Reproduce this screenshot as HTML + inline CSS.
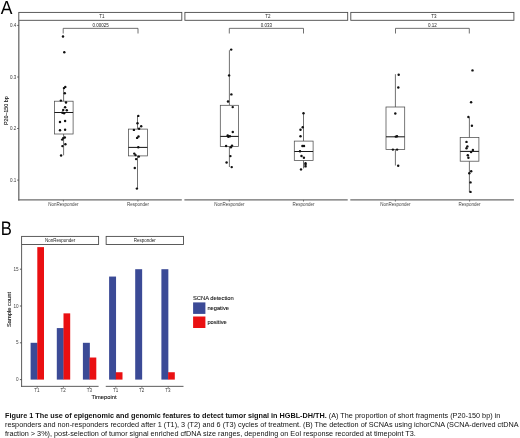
<!DOCTYPE html>
<html lang="en">
<head>
<meta charset="utf-8">
<title>Figure 1</title>
<style>
html,body{margin:0;padding:0;background:#fff;}
body{width:520px;height:438px;overflow:hidden;position:relative;font-family:'Liberation Sans', Arial, Helvetica, sans-serif;}
svg{position:absolute;left:0;top:0;display:block;}
svg text{font-family:'Liberation Sans', Arial, Helvetica, sans-serif;}
svg text.big{text-rendering:geometricPrecision;}
.cap{position:absolute;left:5.0px;top:412.1px;width:520px;font-size:7.275px;line-height:8.78px;color:#111;white-space:nowrap;letter-spacing:0;}
.cap b{font-weight:bold;}
</style>
</head>
<body>
<svg width="520" height="438" viewBox="0 0 520 438">
<rect x="18.80" y="12.40" width="163.00" height="7.90" fill="#fff" stroke="#4a4a4a" stroke-width="0.9"/>
<text x="101.9" y="18.15" font-size="4.5" text-anchor="middle" font-weight="normal" fill="#222" >T1</text>
<line x1="18.150000000000002" y1="199.95" x2="181.8" y2="199.95" stroke="#6c6c6c" stroke-width="1.3"/>
<rect x="184.90" y="12.40" width="162.80" height="7.90" fill="#fff" stroke="#4a4a4a" stroke-width="0.9"/>
<text x="267.90000000000003" y="18.15" font-size="4.5" text-anchor="middle" font-weight="normal" fill="#222" >T2</text>
<line x1="184.4" y1="199.95" x2="347.7" y2="199.95" stroke="#6c6c6c" stroke-width="1.3"/>
<rect x="350.80" y="12.40" width="163.10" height="7.90" fill="#fff" stroke="#4a4a4a" stroke-width="0.9"/>
<text x="433.95000000000005" y="18.15" font-size="4.5" text-anchor="middle" font-weight="normal" fill="#222" >T3</text>
<line x1="350.3" y1="199.95" x2="513.9" y2="199.95" stroke="#6c6c6c" stroke-width="1.3"/>
<line x1="18.8" y1="20.3" x2="18.8" y2="200.6" stroke="#6c6c6c" stroke-width="1.3"/>
<line x1="17.2" y1="25.4" x2="18.8" y2="25.4" stroke="#4a4a4a" stroke-width="0.9"/>
<text x="16.4" y="27.0" font-size="4.55" text-anchor="end" font-weight="normal" fill="#3a3a3a" >0.4</text>
<line x1="17.2" y1="77.0" x2="18.8" y2="77.0" stroke="#4a4a4a" stroke-width="0.9"/>
<text x="16.4" y="78.6" font-size="4.55" text-anchor="end" font-weight="normal" fill="#3a3a3a" >0.3</text>
<line x1="17.2" y1="128.5" x2="18.8" y2="128.5" stroke="#4a4a4a" stroke-width="0.9"/>
<text x="16.4" y="130.1" font-size="4.55" text-anchor="end" font-weight="normal" fill="#3a3a3a" >0.2</text>
<line x1="17.2" y1="180.1" x2="18.8" y2="180.1" stroke="#4a4a4a" stroke-width="0.9"/>
<text x="16.4" y="181.7" font-size="4.55" text-anchor="end" font-weight="normal" fill="#3a3a3a" >0.1</text>
<text transform="translate(8.0,110.7) rotate(-90)" font-size="5.3" text-anchor="middle" fill="#111" stroke="#111" stroke-width="0.1">P20–150 bp</text>
<line x1="63.4" y1="199.95" x2="63.4" y2="201.54999999999998" stroke="#4a4a4a" stroke-width="0.7"/>
<text x="63.4" y="205.7" font-size="4.5" text-anchor="middle" font-weight="normal" fill="#444" >NonResponder</text>
<line x1="137.9" y1="199.95" x2="137.9" y2="201.54999999999998" stroke="#4a4a4a" stroke-width="0.7"/>
<text x="137.9" y="205.7" font-size="4.5" text-anchor="middle" font-weight="normal" fill="#444" >Responder</text>
<line x1="229.3" y1="199.95" x2="229.3" y2="201.54999999999998" stroke="#4a4a4a" stroke-width="0.7"/>
<text x="229.3" y="205.7" font-size="4.5" text-anchor="middle" font-weight="normal" fill="#444" >NonResponder</text>
<line x1="303.5" y1="199.95" x2="303.5" y2="201.54999999999998" stroke="#4a4a4a" stroke-width="0.7"/>
<text x="303.5" y="205.7" font-size="4.5" text-anchor="middle" font-weight="normal" fill="#444" >Responder</text>
<line x1="395.4" y1="199.95" x2="395.4" y2="201.54999999999998" stroke="#4a4a4a" stroke-width="0.7"/>
<text x="395.4" y="205.7" font-size="4.5" text-anchor="middle" font-weight="normal" fill="#444" >NonResponder</text>
<line x1="469.6" y1="199.95" x2="469.6" y2="201.54999999999998" stroke="#4a4a4a" stroke-width="0.7"/>
<text x="469.6" y="205.7" font-size="4.5" text-anchor="middle" font-weight="normal" fill="#444" >Responder</text>
<polyline points="63.2,33.5 63.2,28.35 138.0,28.35 138.0,33.5" fill="none" stroke="#4c4c4c" stroke-width="0.8"/>
<text x="100.6" y="26.9" font-size="4.5" text-anchor="middle" font-weight="normal" fill="#222" >0.00025</text>
<polyline points="229.3,33.5 229.3,28.35 303.5,28.35 303.5,33.5" fill="none" stroke="#4c4c4c" stroke-width="0.8"/>
<text x="266.4" y="26.9" font-size="4.5" text-anchor="middle" font-weight="normal" fill="#222" >0.033</text>
<polyline points="395.5,33.5 395.5,28.35 469.3,28.35 469.3,33.5" fill="none" stroke="#4c4c4c" stroke-width="0.8"/>
<text x="432.4" y="26.9" font-size="4.5" text-anchor="middle" font-weight="normal" fill="#222" >0.12</text>
<line x1="63.6" y1="88.0" x2="63.6" y2="101.2" stroke="#4c4c4c" stroke-width="0.8"/>
<line x1="63.6" y1="134.0" x2="63.6" y2="155.3" stroke="#4c4c4c" stroke-width="0.8"/>
<rect x="54.40" y="101.20" width="18.70" height="32.80" fill="#fff" stroke="#4c4c4c" stroke-width="0.75"/>
<line x1="54.4" y1="112.5" x2="73.1" y2="112.5" stroke="#1a1a1a" stroke-width="1.05"/>
<line x1="137.5" y1="115.9" x2="137.5" y2="129.1" stroke="#4c4c4c" stroke-width="0.8"/>
<line x1="137.5" y1="155.9" x2="137.5" y2="188.6" stroke="#4c4c4c" stroke-width="0.8"/>
<rect x="128.40" y="129.10" width="19.00" height="26.80" fill="#fff" stroke="#4c4c4c" stroke-width="0.75"/>
<line x1="128.4" y1="147.4" x2="147.4" y2="147.4" stroke="#1a1a1a" stroke-width="1.05"/>
<line x1="229.4" y1="50.2" x2="229.4" y2="105.3" stroke="#4c4c4c" stroke-width="0.8"/>
<line x1="229.4" y1="146.4" x2="229.4" y2="167.0" stroke="#4c4c4c" stroke-width="0.8"/>
<rect x="220.30" y="105.30" width="18.20" height="41.10" fill="#fff" stroke="#4c4c4c" stroke-width="0.75"/>
<line x1="220.3" y1="136.4" x2="238.5" y2="136.4" stroke="#1a1a1a" stroke-width="1.05"/>
<line x1="303.5" y1="113.2" x2="303.5" y2="141.1" stroke="#4c4c4c" stroke-width="0.8"/>
<line x1="303.5" y1="160.4" x2="303.5" y2="168.4" stroke="#4c4c4c" stroke-width="0.8"/>
<rect x="294.30" y="141.10" width="18.80" height="19.30" fill="#fff" stroke="#4c4c4c" stroke-width="0.75"/>
<line x1="294.3" y1="151.5" x2="313.1" y2="151.5" stroke="#1a1a1a" stroke-width="1.05"/>
<line x1="395.4" y1="74.2" x2="395.4" y2="107.0" stroke="#4c4c4c" stroke-width="0.8"/>
<line x1="395.4" y1="149.4" x2="395.4" y2="165.5" stroke="#4c4c4c" stroke-width="0.8"/>
<rect x="386.00" y="107.00" width="18.70" height="42.40" fill="#fff" stroke="#4c4c4c" stroke-width="0.75"/>
<line x1="386.0" y1="136.8" x2="404.7" y2="136.8" stroke="#1a1a1a" stroke-width="1.05"/>
<line x1="469.4" y1="117.3" x2="469.4" y2="137.6" stroke="#4c4c4c" stroke-width="0.8"/>
<line x1="469.4" y1="161.2" x2="469.4" y2="192.0" stroke="#4c4c4c" stroke-width="0.8"/>
<rect x="460.20" y="137.60" width="18.70" height="23.60" fill="#fff" stroke="#4c4c4c" stroke-width="0.75"/>
<line x1="460.2" y1="151.4" x2="478.9" y2="151.4" stroke="#1a1a1a" stroke-width="1.05"/>
<g fill="#111">
<circle cx="63" cy="36.5" r="1.22"/>
<circle cx="64.3" cy="52.2" r="1.22"/>
<circle cx="65.3" cy="86.9" r="1.22"/>
<circle cx="64" cy="88.1" r="1.22"/>
<circle cx="64.8" cy="93.2" r="1.22"/>
<circle cx="60.9" cy="100.6" r="1.22"/>
<circle cx="66" cy="102.5" r="1.22"/>
<circle cx="65.1" cy="107.3" r="1.22"/>
<circle cx="63.2" cy="110" r="1.22"/>
<circle cx="66.8" cy="110.3" r="1.22"/>
<circle cx="62.4" cy="112.7" r="1.22"/>
<circle cx="64.1" cy="113.2" r="1.22"/>
<circle cx="60" cy="122" r="1.22"/>
<circle cx="65.1" cy="121" r="1.22"/>
<circle cx="60" cy="130.3" r="1.22"/>
<circle cx="65.1" cy="129.7" r="1.22"/>
<circle cx="64.8" cy="137.5" r="1.22"/>
<circle cx="63.2" cy="138.1" r="1.22"/>
<circle cx="62.2" cy="139.6" r="1.22"/>
<circle cx="65.4" cy="144.2" r="1.22"/>
<circle cx="62.4" cy="146.1" r="1.22"/>
<circle cx="61.1" cy="155.5" r="1.22"/>
<circle cx="138.3" cy="115.9" r="1.22"/>
<circle cx="137.5" cy="123.2" r="1.22"/>
<circle cx="141.2" cy="126.3" r="1.22"/>
<circle cx="139.1" cy="128.7" r="1.22"/>
<circle cx="133.9" cy="129.9" r="1.22"/>
<circle cx="138.5" cy="136.5" r="1.22"/>
<circle cx="137.1" cy="137.9" r="1.22"/>
<circle cx="138.3" cy="147.2" r="1.22"/>
<circle cx="134.3" cy="153.6" r="1.22"/>
<circle cx="135.5" cy="155.1" r="1.22"/>
<circle cx="138.8" cy="156.6" r="1.22"/>
<circle cx="136.1" cy="159.1" r="1.22"/>
<circle cx="134.8" cy="168" r="1.22"/>
<circle cx="136.9" cy="188.6" r="1.22"/>
<circle cx="231.2" cy="49.6" r="1.22"/>
<circle cx="229.1" cy="75.4" r="1.22"/>
<circle cx="231.4" cy="94.4" r="1.22"/>
<circle cx="228" cy="101.5" r="1.22"/>
<circle cx="232.7" cy="107.1" r="1.22"/>
<circle cx="232.8" cy="132" r="1.22"/>
<circle cx="227.7" cy="135.4" r="1.22"/>
<circle cx="228.3" cy="136.8" r="1.22"/>
<circle cx="229.9" cy="136.2" r="1.22"/>
<circle cx="226.1" cy="146" r="1.22"/>
<circle cx="232" cy="145.6" r="1.22"/>
<circle cx="230.9" cy="147.2" r="1.22"/>
<circle cx="230.4" cy="156.1" r="1.22"/>
<circle cx="226.6" cy="162.5" r="1.22"/>
<circle cx="231.7" cy="167.1" r="1.22"/>
<circle cx="303.5" cy="113.2" r="1.22"/>
<circle cx="302.7" cy="127.2" r="1.22"/>
<circle cx="300.5" cy="129.8" r="1.22"/>
<circle cx="300.5" cy="136.2" r="1.22"/>
<circle cx="302.4" cy="146" r="1.22"/>
<circle cx="304" cy="146" r="1.22"/>
<circle cx="300" cy="151.2" r="1.22"/>
<circle cx="301.5" cy="156" r="1.22"/>
<circle cx="303.9" cy="157.7" r="1.22"/>
<circle cx="305.5" cy="163.2" r="1.22"/>
<circle cx="305.5" cy="164.8" r="1.22"/>
<circle cx="305.5" cy="166.4" r="1.22"/>
<circle cx="301.0" cy="169.4" r="1.22"/>
<circle cx="398.7" cy="74.7" r="1.22"/>
<circle cx="398.3" cy="87.5" r="1.22"/>
<circle cx="395.3" cy="113.5" r="1.22"/>
<circle cx="395.8" cy="136.6" r="1.22"/>
<circle cx="397.0" cy="136.3" r="1.22"/>
<circle cx="392.9" cy="149.6" r="1.22"/>
<circle cx="397.1" cy="149.6" r="1.22"/>
<circle cx="398.2" cy="165.8" r="1.22"/>
<circle cx="472.5" cy="70.4" r="1.22"/>
<circle cx="471.1" cy="102.3" r="1.22"/>
<circle cx="468.4" cy="117" r="1.22"/>
<circle cx="471.9" cy="125.8" r="1.22"/>
<circle cx="466.5" cy="141.9" r="1.22"/>
<circle cx="467.4" cy="146.4" r="1.22"/>
<circle cx="466.5" cy="148.3" r="1.22"/>
<circle cx="472.9" cy="150" r="1.22"/>
<circle cx="471.1" cy="152" r="1.22"/>
<circle cx="467.8" cy="155.3" r="1.22"/>
<circle cx="468.4" cy="157.7" r="1.22"/>
<circle cx="471.2" cy="171.3" r="1.22"/>
<circle cx="469.3" cy="173.3" r="1.22"/>
<circle cx="470.5" cy="182.4" r="1.22"/>
<circle cx="470.5" cy="191.9" r="1.22"/>
</g>
<rect x="21.60" y="236.40" width="77.00" height="8.15" fill="#fff" stroke="#4a4a4a" stroke-width="0.9"/>
<text x="60.099999999999994" y="242.2" font-size="4.5" text-anchor="middle" font-weight="normal" fill="#222" >NonResponder</text>
<line x1="21.150000000000002" y1="386.35" x2="98.6" y2="386.35" stroke="#4a4a4a" stroke-width="0.9"/>
<rect x="106.15" y="236.40" width="77.35" height="8.15" fill="#fff" stroke="#4a4a4a" stroke-width="0.9"/>
<text x="144.825" y="242.2" font-size="4.5" text-anchor="middle" font-weight="normal" fill="#222" >Responder</text>
<line x1="105.75" y1="386.35" x2="183.5" y2="386.35" stroke="#4a4a4a" stroke-width="0.9"/>
<line x1="21.6" y1="244.5" x2="21.6" y2="386.8" stroke="#4a4a4a" stroke-width="0.9"/>
<line x1="19.9" y1="379.6" x2="21.6" y2="379.6" stroke="#4a4a4a" stroke-width="0.9"/>
<text x="18.6" y="381.20000000000005" font-size="4.6" text-anchor="end" font-weight="normal" fill="#444" >0</text>
<line x1="19.9" y1="342.8" x2="21.6" y2="342.8" stroke="#4a4a4a" stroke-width="0.9"/>
<text x="18.6" y="344.40000000000003" font-size="4.6" text-anchor="end" font-weight="normal" fill="#444" >5</text>
<line x1="19.9" y1="306.0" x2="21.6" y2="306.0" stroke="#4a4a4a" stroke-width="0.9"/>
<text x="18.6" y="307.6" font-size="4.6" text-anchor="end" font-weight="normal" fill="#444" >10</text>
<line x1="19.9" y1="269.20000000000005" x2="21.6" y2="269.20000000000005" stroke="#4a4a4a" stroke-width="0.9"/>
<text x="18.6" y="270.80000000000007" font-size="4.6" text-anchor="end" font-weight="normal" fill="#444" >15</text>
<text transform="translate(10.5,309.5) rotate(-90)" font-size="5.76" text-anchor="middle" fill="#111" stroke="#111" stroke-width="0.1">Sample count</text>
<rect x="30.60" y="342.80" width="6.95" height="36.80" fill="#3b4a96" stroke="none" stroke-width="1"/>
<rect x="37.30" y="247.12" width="6.70" height="132.48" fill="#ea1012" stroke="none" stroke-width="1"/>
<rect x="56.80" y="328.08" width="6.95" height="51.52" fill="#3b4a96" stroke="none" stroke-width="1"/>
<rect x="63.50" y="313.36" width="6.70" height="66.24" fill="#ea1012" stroke="none" stroke-width="1"/>
<rect x="82.90" y="342.80" width="6.95" height="36.80" fill="#3b4a96" stroke="none" stroke-width="1"/>
<rect x="89.60" y="357.52" width="6.70" height="22.08" fill="#ea1012" stroke="none" stroke-width="1"/>
<rect x="109.10" y="276.56" width="6.95" height="103.04" fill="#3b4a96" stroke="none" stroke-width="1"/>
<rect x="115.80" y="372.24" width="6.70" height="7.36" fill="#ea1012" stroke="none" stroke-width="1"/>
<rect x="135.20" y="269.20" width="6.95" height="110.40" fill="#3b4a96" stroke="none" stroke-width="1"/>
<rect x="161.40" y="269.20" width="6.95" height="110.40" fill="#3b4a96" stroke="none" stroke-width="1"/>
<rect x="168.10" y="372.24" width="6.70" height="7.36" fill="#ea1012" stroke="none" stroke-width="1"/>
<line x1="37.2" y1="386.35" x2="37.2" y2="387.95000000000005" stroke="#4a4a4a" stroke-width="0.7"/>
<text x="37.0" y="392.4" font-size="4.5" text-anchor="middle" font-weight="normal" fill="#3a3a3a" >T1</text>
<line x1="63.400000000000006" y1="386.35" x2="63.400000000000006" y2="387.95000000000005" stroke="#4a4a4a" stroke-width="0.7"/>
<text x="63.2" y="392.4" font-size="4.5" text-anchor="middle" font-weight="normal" fill="#3a3a3a" >T2</text>
<line x1="89.60000000000001" y1="386.35" x2="89.60000000000001" y2="387.95000000000005" stroke="#4a4a4a" stroke-width="0.7"/>
<text x="89.4" y="392.4" font-size="4.5" text-anchor="middle" font-weight="normal" fill="#3a3a3a" >T3</text>
<line x1="115.8" y1="386.35" x2="115.8" y2="387.95000000000005" stroke="#4a4a4a" stroke-width="0.7"/>
<text x="115.6" y="392.4" font-size="4.5" text-anchor="middle" font-weight="normal" fill="#3a3a3a" >T1</text>
<line x1="141.89999999999998" y1="386.35" x2="141.89999999999998" y2="387.95000000000005" stroke="#4a4a4a" stroke-width="0.7"/>
<text x="141.7" y="392.4" font-size="4.5" text-anchor="middle" font-weight="normal" fill="#3a3a3a" >T2</text>
<line x1="168.2" y1="386.35" x2="168.2" y2="387.95000000000005" stroke="#4a4a4a" stroke-width="0.7"/>
<text x="168.0" y="392.4" font-size="4.5" text-anchor="middle" font-weight="normal" fill="#3a3a3a" >T3</text>
<text x="104.0" y="398.9" font-size="5.75" text-anchor="middle" font-weight="normal" fill="#111" stroke="#111" stroke-width="0.1">Timepoint</text>
<text x="192.9" y="300.0" font-size="5.8" text-anchor="start" font-weight="normal" fill="#111" stroke="#111" stroke-width="0.08">SCNA detection</text>
<rect x="193.10" y="302.40" width="12.30" height="11.50" fill="#3b4a96" stroke="none" stroke-width="1"/>
<rect x="193.10" y="316.50" width="12.30" height="11.50" fill="#ea1012" stroke="none" stroke-width="1"/>
<text x="207.4" y="309.8" font-size="5.7" text-anchor="start" font-weight="normal" fill="#111" stroke="#111" stroke-width="0.1">negative</text>
<text x="207.4" y="323.8" font-size="5.7" text-anchor="start" font-weight="normal" fill="#111" stroke="#111" stroke-width="0.1">positive</text>
<text transform="translate(0.7,14.45) scale(0.0915,0.1)" font-size="191" class="big" fill="#000">A</text>
<text transform="translate(0.8,234.7) scale(0.084,0.1)" font-size="198" class="big" fill="#000">B</text>
</svg>
<div class="cap"><span id="l1"><b>Figure 1 The use of epigenomic and genomic features to detect tumor signal in HGBL-DH/TH.</b> (A) The proportion of short fragments (P20-150 bp) in</span><br><span id="l2">responders and non-responders recorded after 1 (T1), 3 (T2) and 6 (T3) cycles of treatment. (B) The detection of SCNAs using ichorCNA (SCNA-derived ctDNA</span><br><span id="l3">fraction &gt; 3%), post-selection of tumor signal enriched cfDNA size ranges, depending on EoI response recorded at timepoint T3.</span></div>
</body>
</html>
